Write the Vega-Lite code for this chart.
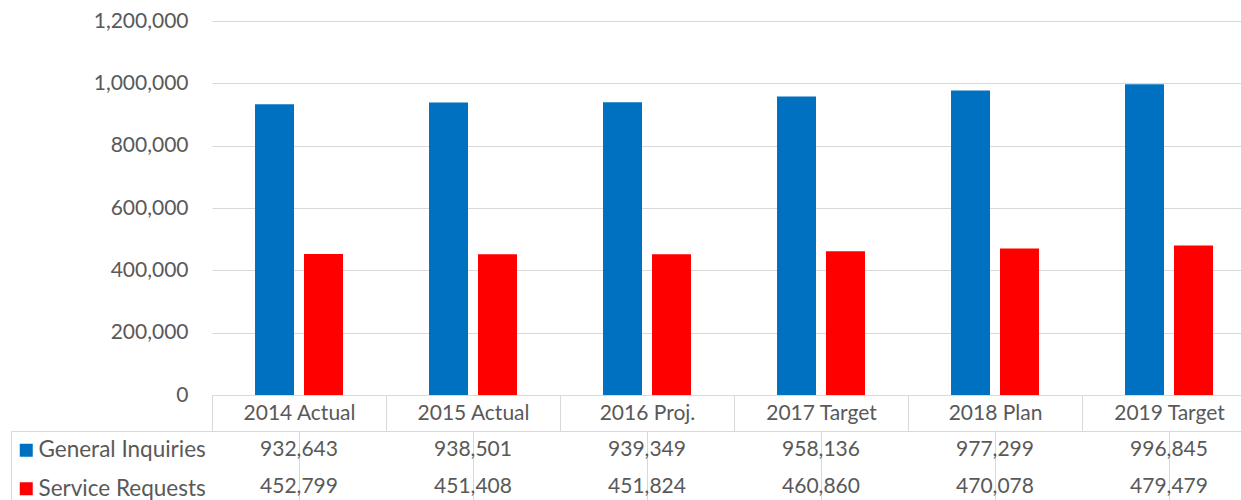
{
  "$schema": "https://vega.github.io/schema/vega-lite/v6.json",
  "padding": {"left": 10, "top": 10, "right": 0, "bottom": 0},
  "background": "white",
  "datasets": {
    "d": [
      {"category": "2014 Actual", "series": "General Inquiries", "value": 932643},
      {"category": "2015 Actual", "series": "General Inquiries", "value": 938501},
      {"category": "2016 Proj.", "series": "General Inquiries", "value": 939349},
      {"category": "2017 Target", "series": "General Inquiries", "value": 958136},
      {"category": "2018 Plan", "series": "General Inquiries", "value": 977299},
      {"category": "2019 Target", "series": "General Inquiries", "value": 996845},
      {"category": "2014 Actual", "series": "Service Requests", "value": 452799},
      {"category": "2015 Actual", "series": "Service Requests", "value": 451408},
      {"category": "2016 Proj.", "series": "Service Requests", "value": 451824},
      {"category": "2017 Target", "series": "Service Requests", "value": 460860},
      {"category": "2018 Plan", "series": "Service Requests", "value": 470078},
      {"category": "2019 Target", "series": "Service Requests", "value": 479479}
    ]
  },
  "data": {"name": "d"},
  "vconcat": [
    {
      "width": 1044,
      "height": 374,
      "mark": {"type": "bar"},
      "encoding": {
        "x": {
          "field": "category", "type": "nominal",
          "sort": ["2014 Actual", "2015 Actual", "2016 Proj.", "2017 Target", "2018 Plan", "2019 Target"],
          "scale": {"paddingInner": 0, "paddingOuter": 0},
          "axis": {
            "title": null, "labelAngle": 0, "domain": true, "domainColor": "#d9d9d9",
            "ticks": true, "tickBand": "extent", "tickSize": 36, "tickColor": "#d9d9d9",
            "labelBaseline": "middle", "labelPadding": -18,
            "labelFont": "Lato", "labelFontSize": 21, "labelColor": "#595959"
          }
        },
        "xOffset": {
          "field": "series", "type": "nominal",
          "sort": ["General Inquiries", "Service Requests"],
          "scale": {"paddingInner": 0.204, "paddingOuter": 0.878}
        },
        "y": {
          "field": "value", "type": "quantitative",
          "scale": {"domain": [0, 1200000], "nice": false},
          "axis": {
            "title": null, "values": [0, 200000, 400000, 600000, 800000, 1000000, 1200000],
            "format": ",.0f", "grid": true, "gridColor": "#d9d9d9", "domain": false, "ticks": false,
            "labelPadding": 24, "labelFont": "Lato", "labelFontSize": 21, "labelColor": "#595959"
          }
        },
        "color": {
          "field": "series", "type": "nominal",
          "scale": {"domain": ["General Inquiries", "Service Requests"], "range": ["#0070C0", "#FF0000"]},
          "legend": {
            "orient": "none", "legendX": -197, "legendY": 418, "title": null,
            "padding": 0, "symbolType": "square", "symbolSize": 169, "symbolStrokeWidth": 0,
            "rowPadding": 15.5, "labelOffset": 1, "labelFont": "Lato", "labelFontSize": 22.5,
            "labelColor": "#595959", "labelLimit": 300
          }
        }
      }
    },
    {
      "width": 1044,
      "height": 74,
      "mark": {"type": "text", "font": "Lato", "fontSize": 21, "color": "#595959"},
      "encoding": {
        "x": {
          "field": "category", "type": "nominal",
          "sort": ["2014 Actual", "2015 Actual", "2016 Proj.", "2017 Target", "2018 Plan", "2019 Target"],
          "scale": {"paddingInner": 0, "paddingOuter": 0},
          "axis": {
            "orient": "top", "title": null, "labels": false, "ticks": false,
            "grid": true, "gridColor": "#d9d9d9", "bandPosition": 0,
            "domain": true, "domainColor": "#d9d9d9"
          }
        },
        "y": {
          "field": "series", "type": "nominal",
          "sort": ["General Inquiries", "Service Requests"],
          "scale": {"paddingInner": 0, "paddingOuter": 0},
          "axis": {
            "title": null, "labels": false, "offset": 201, "values": ["General Inquiries"],
            "tickOffset": -18.5, "ticks": true, "tickSize": -201, "tickColor": "#d9d9d9",
            "domain": true, "domainColor": "#d9d9d9", "grid": false
          }
        },
        "text": {"field": "value", "type": "quantitative", "format": ",.0f"}
      }
    }
  ],
  "spacing": 36,
  "bounds": "flush",
  "resolve": {"legend": {"color": "independent"}},
  "config": {"view": {"stroke": null}}
}
